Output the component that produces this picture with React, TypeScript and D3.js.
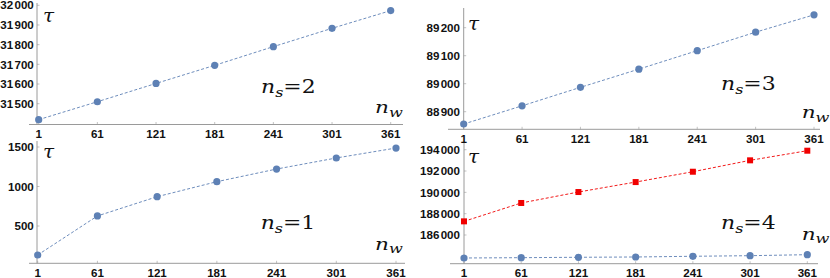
import React from "react";
import * as d3 from "d3";

// ---- data ----
const nw = [1, 61, 121, 181, 241, 301, 361];
const tauNs1 = [133, 627, 871, 1061, 1221, 1361, 1487];
const tauNs2 = [31419, 31510, 31603, 31695, 31790, 31883, 31973];
const tauNs3 = [88856, 88921, 88987, 89052, 89118, 89184, 89246];
const tauNs4 = [183844, 183873, 183910, 183938, 184004, 184060, 184154];
const tauNs4Red = [187280, 189003, 190030, 190965, 191934, 193003, 193906];

const yTicksNs1 = [500, 1000, 1500];
const yTicksNs2 = [31500, 31600, 31700, 31800, 31900, 32000];
const yTicksNs3 = [88900, 89000, 89100, 89200];
const yTicksNs4 = [186000, 188000, 190000, 192000, 194000];

const nsLabels = ["1", "2", "3", "4"];

// ---- styles ----
const BLUE = "#5E81B5";
const RED = "#F00000";
const AXIS = "#9a9a9a";
const TICK_FONT = "'Liberation Sans', Arial, sans-serif";
const MATH_FONT = "'DejaVu Serif', serif";
const TICK_SIZE = 11.6;

type Series = { values: number[]; color: string; marker: "circle" | "square" };

type Panel = {
  key: string;
  ns: string;
  series: Series[];
  yTicks: number[];
  yDomain: [number, number];
  yRange: [number, number];
  xRange: [number, number];
  axisY: number;
  axisX: number;
  xAxisExtent: [number, number];
  yAxisTop: number;
  labelRight: number;
  tau: [number, number];
  nsPos: [number, number];
  nwPos: [number, number];
};

const panels: Panel[] = [
  {
    key: "tl",
    ns: nsLabels[1],
    series: [{ values: tauNs2, color: BLUE, marker: "circle" }],
    yTicks: yTicksNs2,
    yDomain: [31500, 32000],
    yRange: [103.7, 5.3],
    xRange: [38.7, 390.7],
    axisY: 124.5,
    axisX: 37,
    xAxisExtent: [29, 403],
    yAxisTop: 3,
    labelRight: 33.8,
    tau: [43, 21.7],
    nsPos: [261, 93],
    nwPos: [375, 113],
  },
  {
    key: "tr",
    ns: nsLabels[2],
    series: [{ values: tauNs3, color: BLUE, marker: "circle" }],
    yTicks: yTicksNs3,
    yDomain: [88900, 89200],
    yRange: [111.7, 27.7],
    xRange: [463.7, 814],
    axisY: 129.3,
    axisX: 463.7,
    xAxisExtent: [448, 820],
    yAxisTop: 8,
    labelRight: 460,
    tau: [468, 30],
    nsPos: [721, 90],
    nwPos: [801.7, 118.3],
  },
  {
    key: "bl",
    ns: nsLabels[0],
    series: [{ values: tauNs1, color: BLUE, marker: "circle" }],
    yTicks: yTicksNs1,
    yDomain: [500, 1500],
    yRange: [226, 147],
    xRange: [37.7, 396],
    axisY: 263.3,
    axisX: 37,
    xAxisExtent: [29, 405],
    yAxisTop: 141,
    labelRight: 33.8,
    tau: [43, 158],
    nsPos: [260.7, 229],
    nwPos: [375, 249.7],
  },
  {
    key: "br",
    ns: nsLabels[3],
    series: [
      { values: tauNs4Red, color: RED, marker: "square" },
      { values: tauNs4, color: BLUE, marker: "circle" },
    ],
    yTicks: yTicksNs4,
    yDomain: [186000, 194000],
    yRange: [235, 149.7],
    xRange: [464, 807.3],
    axisY: 263.7,
    axisX: 464,
    xAxisExtent: [450, 818],
    yAxisTop: 143,
    labelRight: 460,
    tau: [468, 163],
    nsPos: [721, 228.7],
    nwPos: [801.7, 239.7],
  },
];

// digit groups as [thousands, rest]; groups only for numbers with more than 4 digits
function groups(v: number): string[] {
  const s = String(Math.round(v));
  if (s.length <= 4) return [s];
  return [s.slice(0, s.length - 3), s.slice(s.length - 3)];
}

function PanelView({ p }: { p: Panel }) {
  const x = d3.scaleLinear().domain([nw[0], nw[nw.length - 1]]).range(p.xRange);
  const y = d3.scaleLinear().domain(p.yDomain).range(p.yRange);
  const line = d3
    .line<number>()
    .x((_, i) => x(nw[i]))
    .y((d) => y(d));
  return (
    <g>
      {/* axes */}
      <line x1={p.xAxisExtent[0]} x2={p.xAxisExtent[1]} y1={p.axisY} y2={p.axisY} stroke={AXIS} strokeWidth={1} />
      <line x1={p.axisX} x2={p.axisX} y1={p.yAxisTop} y2={p.axisY} stroke={AXIS} strokeWidth={1} />
      {nw.map((t) => (
        <g key={"xt" + t}>
          <line x1={x(t)} x2={x(t)} y1={p.axisY} y2={p.axisY - 2.5} stroke={AXIS} strokeWidth={0.6} />
          <text
            x={x(t)}
            y={p.axisY + 13.6}
            textAnchor="middle"
            fontFamily={TICK_FONT}
            fontWeight="bold"
            fontSize={TICK_SIZE}
            fill="#111"
          >
            {t}
          </text>
        </g>
      ))}
      {p.yTicks.map((t) => {
        const g = groups(t);
        return (
          <g key={"yt" + t}>
            <line x1={p.axisX} x2={p.axisX + 2.5} y1={y(t)} y2={y(t)} stroke={AXIS} strokeWidth={0.6} />
            <text
              x={p.labelRight}
              y={y(t)}
              dy="0.36em"
              textAnchor="end"
              fontFamily={TICK_FONT}
              fontWeight="bold"
              fontSize={TICK_SIZE}
              fill="#111"
            >
              {g.length === 1 ? (
                g[0]
              ) : (
                <>
                  <tspan>{g[0]}</tspan>
                  <tspan dx={1.3}>{g[1]}</tspan>
                </>
              )}
            </text>
          </g>
        );
      })}
      {/* series */}
      {p.series.map((s, si) => (
        <g key={"s" + si}>
          <path d={line(s.values) || ""} fill="none" stroke={s.color} strokeWidth={1} strokeDasharray="3,2" opacity={0.9} />
          {s.values.map((v, i) =>
            s.marker === "circle" ? (
              <circle key={i} cx={x(nw[i])} cy={y(v)} r={3.6} fill={s.color} />
            ) : (
              <rect key={i} x={x(nw[i]) - 3} y={y(v) - 3} width={6} height={6} fill={s.color} />
            )
          )}
        </g>
      ))}
      {/* labels */}
      <text
        transform={`translate(${p.tau[0]},${p.tau[1]}) scale(1.05,1)`}
        fontFamily={MATH_FONT}
        fontStyle="italic"
        fontSize={19}
        fill="#111"
      >
        τ
      </text>
      <text
        transform={`translate(${p.nsPos[0]},${p.nsPos[1]}) scale(1.22,1)`}
        fontFamily={MATH_FONT}
        fontSize={18}
        fill="#111"
      >
        <tspan fontStyle="italic">n</tspan>
        <tspan fontStyle="italic" fontSize={13} dy={4}>
          s
        </tspan>
        <tspan dy={-4}>={p.ns}</tspan>
      </text>
      <text
        transform={`translate(${p.nwPos[0]},${p.nwPos[1]}) scale(1.35,1)`}
        fontFamily={MATH_FONT}
        fontSize={16}
        fill="#111"
      >
        <tspan fontStyle="italic">n</tspan>
        <tspan fontStyle="italic" fontSize={12} dy={3.5}>
          w
        </tspan>
      </text>
    </g>
  );
}

export default function App() {
  return (
    <svg
      width={830}
      height={278}
      viewBox="0 0 830 278"
      style={{ position: "absolute", left: 0, top: 0, background: "#fff" }}
    >
      <rect width={830} height={278} fill="#fff" />
      {panels.map((p) => (
        <PanelView key={p.key} p={p} />
      ))}
    </svg>
  );
}
